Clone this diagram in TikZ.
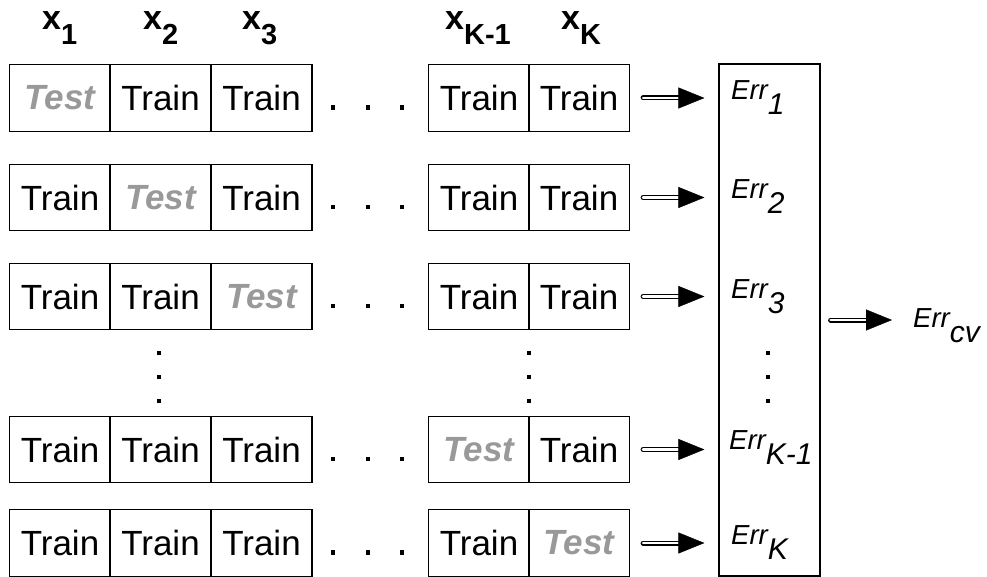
\documentclass[tikz,border=0pt]{standalone}
\usepackage{fontspec}
\setmainfont{Liberation Sans}
\usetikzlibrary{arrows.meta}
\definecolor{testgray}{HTML}{999999}
\newcommand\dropsub[2]{\raisebox{-#1}{#2}}
\newcommand\sqdot[2]{\fill (#1-2.3,#2-2.3) rectangle (#1+2.3,#2+2.3);}
\tikzset{
  cell/.style={draw, line width=1.2pt, minimum width=101pt, minimum height=66.5pt,
    inner sep=0pt, font=\fontsize{35}{40}\selectfont},
  testcell/.style={cell, text=testgray, font=\fontsize{35}{40}\selectfont\bfseries\itshape},
  hdr/.style={inner sep=0pt, anchor=base west, font=\fontsize{34}{40}\selectfont\bfseries},
  errlab/.style={inner sep=0pt, anchor=base west, font=\fontsize{27.5}{30}\selectfont\itshape},
  fat/.style={draw, line width=1.1pt, double=white, double distance=2.8pt, line cap=round,
    -{Triangle[length=26pt, width=21pt, line width=0.4pt]}},
}
\begin{document}
\begin{tikzpicture}[x=1pt, y=-1pt]
\useasboundingbox (0,0) rectangle (987,577);

% column headers
\node[hdr] (h1) at (42,30) {x\dropsub{15pt}{\fontsize{29}{30}\selectfont 1}};
\node[hdr] (h2) at (143,30) {x\dropsub{15pt}{\fontsize{29}{30}\selectfont 2}};
\node[hdr] (h3) at (242,30) {x\dropsub{15pt}{\fontsize{29}{30}\selectfont 3}};
\node[hdr] (h4) at (445,30) {x\dropsub{15pt}{\fontsize{29}{30}\selectfont K-1}};
\node[hdr] (h5) at (561,30) {x\dropsub{15pt}{\fontsize{29}{30}\selectfont K}};

% the folds: one row per split, the grey cell is held out
\foreach \r/\y in {1/98, 2/197.5, 3/296.5, 4/449.5, 5/543} {
  \foreach \c/\x in {1/60, 2/160.5, 3/261.5, 4/479, 5/579} {
    \ifnum\c=\r
      \node[testcell] (r\r c\c) at (\x,\y) {Test};
    \else
      \node[cell] (r\r c\c) at (\x,\y) {Train};
    \fi
  }
  \sqdot{333}{\y+9.5}
  \sqdot{368}{\y+9.5}
  \sqdot{402}{\y+9.5}
}

% vertical ellipses
\foreach \x in {159, 529, 768} {
  \sqdot{\x}{353}
  \sqdot{\x}{377}
  \sqdot{\x}{401}
}

% error column
\node[draw, line width=1.2pt, minimum width=101pt, minimum height=512pt, inner sep=0pt]
  (errbox) at (769.5,320) {};

\node[errlab] (e1) at (731,100) {Err\dropsub{15pt}{\fontsize{30}{30}\selectfont 1}};
\node[errlab] (e2) at (731,199) {Err\dropsub{15pt}{\fontsize{30}{30}\selectfont 2}};
\node[errlab] (e3) at (731,298) {Err\dropsub{15pt}{\fontsize{30}{30}\selectfont 3}};
\node[errlab] (e4) at (729,449) {Err\dropsub{15pt}{\fontsize{30}{30}\selectfont K-1}};
\node[errlab] (e5) at (731,544) {Err\dropsub{15pt}{\fontsize{30}{30}\selectfont K}};

\node[errlab] (ecv) at (913,327) {Err\dropsub{15pt}{\fontsize{30}{30}\selectfont cv}};

% arrows from each fold to its error
\foreach \r in {1,...,5} {
  \draw[fat, shorten <=13pt, shorten >=14pt] (r\r c5.east) -- (errbox.west |- r\r c5.east);
}
\draw[fat, shorten <=10pt, shorten >=21pt] (errbox.east) -- (errbox.east -| ecv.west);
\end{tikzpicture}
\end{document}
